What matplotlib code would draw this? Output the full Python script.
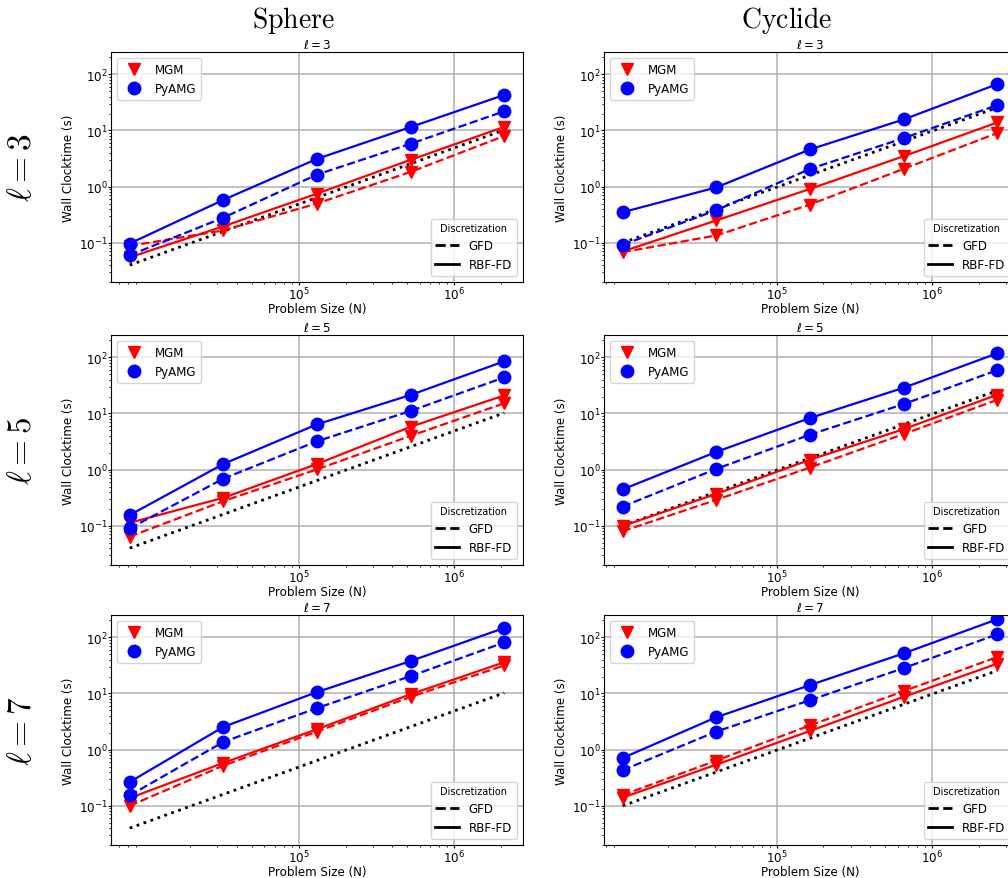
import matplotlib
matplotlib.use("Agg")
import matplotlib.pyplot as plt
from matplotlib.lines import Line2D

plt.rcParams['font.size'] = 8.6

# problem sizes for the two surfaces
N_sphere = [8192, 32768, 131072, 524288, 2097152]
N_cyclide = [10240, 40960, 163840, 655360, 2621440]

# O(N) reference lines
ref_sphere = [0.04, 0.16, 0.64, 2.56, 10.24]
ref_cyclide = [0.1, 0.4, 1.6, 6.4, 25.6]

orders = [3, 5, 7]

# wall clock times (s), one list per order
sphere_mgm_gfd = [[0.088, 0.166, 0.50, 1.83, 8.0],
                  [0.064, 0.275, 1.01, 4.0, 15.2],
                  [0.10, 0.52, 2.1, 8.7, 31.6]]
sphere_mgm_rbf = [[0.055, 0.196, 0.75, 3.0, 11.6],
                  [0.113, 0.315, 1.26, 5.8, 21.0],
                  [0.137, 0.58, 2.31, 9.7, 36.0]]
sphere_amg_gfd = [[0.060, 0.28, 1.64, 5.8, 22.0],
                  [0.090, 0.69, 3.2, 11.1, 44.0],
                  [0.153, 1.37, 5.5, 20.4, 81.0]]
sphere_amg_rbf = [[0.097, 0.58, 3.12, 11.5, 43.0],
                  [0.155, 1.26, 6.4, 21.4, 85.0],
                  [0.265, 2.54, 10.6, 37.8, 147.0]]

cyclide_mgm_gfd = [[0.068, 0.135, 0.48, 2.07, 9.0],
                   [0.080, 0.29, 1.09, 4.3, 17.5],
                   [0.155, 0.64, 2.7, 11.0, 44.6]]
cyclide_mgm_rbf = [[0.070, 0.25, 0.91, 3.48, 13.9],
                   [0.099, 0.37, 1.5, 5.25, 21.6],
                   [0.14, 0.54, 2.15, 8.7, 34.0]]
cyclide_amg_gfd = [[0.092, 0.38, 2.07, 7.3, 28.3],
                   [0.22, 1.03, 4.2, 14.7, 59.0],
                   [0.43, 2.1, 7.6, 28.3, 113.0]]
cyclide_amg_rbf = [[0.35, 0.97, 4.6, 15.7, 67.0],
                   [0.445, 2.07, 8.3, 28.7, 118.0],
                   [0.71, 3.78, 14.1, 51.8, 210.0]]

surfaces = [
    ("Sphere", N_sphere, ref_sphere, sphere_mgm_gfd, sphere_mgm_rbf, sphere_amg_gfd, sphere_amg_rbf),
    ("Cyclide", N_cyclide, ref_cyclide, cyclide_mgm_gfd, cyclide_mgm_rbf, cyclide_amg_gfd, cyclide_amg_rbf),
]

fig = plt.figure(figsize=(10.08, 8.79), dpi=100)

W, H = 1008, 879
col_left = [111, 604]
row_top = [53, 336, 616]
ax_w, ax_h = 412, 230
ms = 9

for c, (name, N, ref, mgm_gfd, mgm_rbf, amg_gfd, amg_rbf) in enumerate(surfaces):
    for r, order in enumerate(orders):
        ax = fig.add_axes([col_left[c] / W, 1 - (row_top[r] + ax_h) / H, ax_w / W, ax_h / H])
        ax.plot(N, ref, ':', color='k', lw=2)
        ax.plot(N, mgm_gfd[r], '--v', color='red', lw=1.6, ms=ms)
        ax.plot(N, mgm_rbf[r], '-v', color='red', lw=1.6, ms=ms)
        ax.plot(N, amg_gfd[r], '--o', color='blue', lw=1.6, ms=ms)
        ax.plot(N, amg_rbf[r], '-o', color='blue', lw=1.6, ms=ms)
        ax.set_xscale('log')
        ax.set_yscale('log')
        ax.set_xticks([1e5, 1e6])
        ax.set_ylim(2e-2, 2.5e2)
        ax.tick_params(which='major', length=2, pad=0.5)
        ax.tick_params(which='minor', length=1.5)
        ax.grid(True, lw=1.1)
        ax.set_title(r'$\ell = %d$' % order, fontsize=8.6, pad=3)
        ax.set_xlabel('Problem Size (N)', labelpad=0)
        ax.set_ylabel('Wall Clocktime (s)', labelpad=3)

        solver_handles = [
            Line2D([], [], ls='none', marker='v', color='red', ms=ms),
            Line2D([], [], ls='none', marker='o', color='blue', ms=ms),
        ]
        leg1 = ax.legend(solver_handles, ['MGM', 'PyAMG'], loc='upper left')
        ax.add_artist(leg1)
        disc_handles = [
            Line2D([], [], ls='--', color='k', lw=2),
            Line2D([], [], ls='-', color='k', lw=2),
        ]
        ax.legend(disc_handles, ['GFD', 'RBF-FD'], loc='lower right',
                  title='Discretization', title_fontsize=7)

# column headings and row labels
fig.text(293 / W, 1 - 21 / H, r'$\mathrm{Sphere}$', fontsize=20,
         math_fontfamily='cm', ha='center', va='center')
fig.text(787 / W, 1 - 21 / H, r'$\mathrm{Cyclide}$', fontsize=20,
         math_fontfamily='cm', ha='center', va='center')
for r, order in enumerate(orders):
    fig.text(22 / W, 1 - (row_top[r] + ax_h / 2) / H, r'$\ell = %d$' % order,
             fontsize=24, math_fontfamily='cm', rotation=90, ha='center', va='center')

fig.savefig('out.png', dpi=100)
